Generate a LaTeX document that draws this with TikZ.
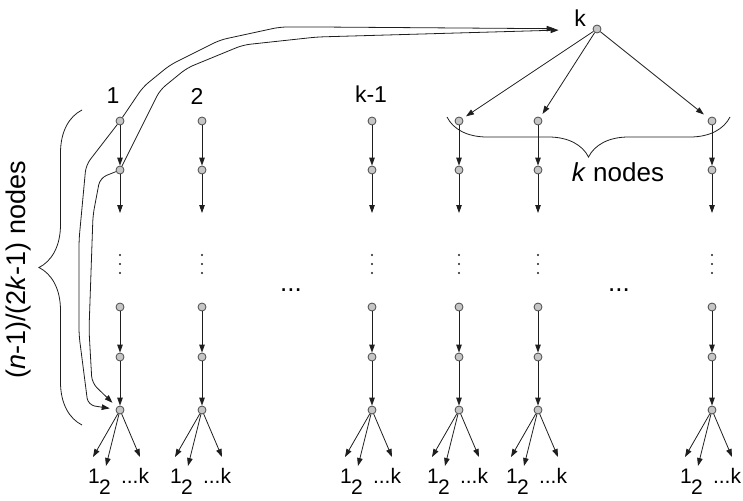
\documentclass[tikz,border=0pt]{standalone}
\usepackage{fontspec}
\setmainfont{Liberation Sans}
\usepackage{xcolor}
\definecolor{Ink}{HTML}{1E1E1E}
\definecolor{Pebble}{HTML}{C6C6C6}
\definecolor{Slate}{HTML}{4A4A4A}
\usepackage{tikz}
\usetikzlibrary{arrows.meta,positioning,decorations.pathreplacing}

\begin{document}
\begin{tikzpicture}[
  x=1pt,y=-1pt,
  dot/.style={circle,draw=Slate,fill=Pebble,line width=0.8pt,inner sep=0pt,minimum size=8pt},
  arrow/.style={-{Triangle[length=8pt,width=5.5pt]},line width=0.8pt,color=Ink},
  link/.style={arrow,rounded corners=7pt},
  brace/.style={decorate,decoration={brace,amplitude=#1},line width=0.8pt,color=Ink},
  lbl/.style={inner sep=0pt,font=\fontsize{23}{26}\selectfont},
  leaf/.style={inner sep=0pt,anchor=base,font=\fontsize{21}{24}\selectfont}
]
\useasboundingbox (0,0) rectangle (743,500);

\node[dot] (k) at (597,29) {};
\node[lbl] (klabel) at (580,18) {k};
\node[lbl] (head1) at (113,96) {1};
\node[lbl] (head2) at (197,96) {2};
\node[lbl] (head3) at (371,94) {k-1};

% one chain per column
\foreach \x/\n in {120/1,202/2,372/3,459/4,538/5,712/6} {
  \node[dot] (c\n a) at (\x,121) {};
  \node[dot] (c\n b) at (\x,170) {};
  \coordinate (c\n e) at (\x,213);
  \foreach \y in {255,264,273}
    \fill[Ink] (\x,\y) circle (1.2pt);
  \node[dot] (c\n c) at (\x,307) {};
  \node[dot] (c\n d) at (\x,357) {};
  \node[dot] (c\n f) at (\x,410) {};
  \draw[arrow] (c\n a) -- (c\n b);
  \draw[arrow] (c\n b) -- (c\n e);
  \draw[arrow] (c\n c) -- (c\n d);
  \draw[arrow] (c\n d) -- (c\n f);
  \coordinate (c\n t1) at (\x-27,457);
  \coordinate (c\n t2) at (\x-14,466);
  \coordinate (c\n tk) at (\x+20,457);
  \draw[arrow] (c\n f) -- (c\n t1);
  \draw[arrow] (c\n f) -- (c\n t2);
  \draw[arrow] (c\n f) -- (c\n tk);
  \node[leaf] (c\n l1) at (\x-26,483) {1};
  \node[leaf] (c\n l2) at (\x-15,494) {2};
  \node[leaf] (c\n lk) at (\x+15,483) {...k};
}

\node[lbl,font=\fontsize{26}{28}\selectfont] (gapl) at (291,290) {...};
\node[lbl,font=\fontsize{26}{28}\selectfont] (gapr) at (619,290) {...};

\draw[arrow,shorten >=4pt] (k) -- (c4a);
\draw[arrow,shorten >=4pt] (k) -- (c5a);
\draw[arrow,shorten >=6pt] (k) -- (c6a);

\draw[link,shorten >=38pt] (c1a) -- (143,87) -- (170,65) -- (220,40) -- (280,27) -- (320,27) -- (k);
\draw[link,shorten >=34pt] (c1b) -- (160,90) -- (187,68) -- (243,45) -- (317,37) -- (k);
\draw[link,shorten >=6pt] (c1a) -- (86,165) -- (79,240) -- (79,335) -- (88,405) -- (c1f);
\draw[link,shorten >=6pt] (c1b) -- (100,178) -- (93,215) -- (89,330) -- (92,383) -- (c1f);

\draw[brace=40pt] (730,117) -- (447,117);
\node[font=\fontsize{26}{30}\selectfont] (knodes) at (618,172) {\textit{k} nodes};

\draw[brace=43pt] (82,425) -- (82,110);
\node[rotate=90,font=\fontsize{27}{30}\selectfont] (count) at (19,270) {(\textit{n}-1)/(2\textit{k}-1) nodes};
\end{tikzpicture}
\end{document}
